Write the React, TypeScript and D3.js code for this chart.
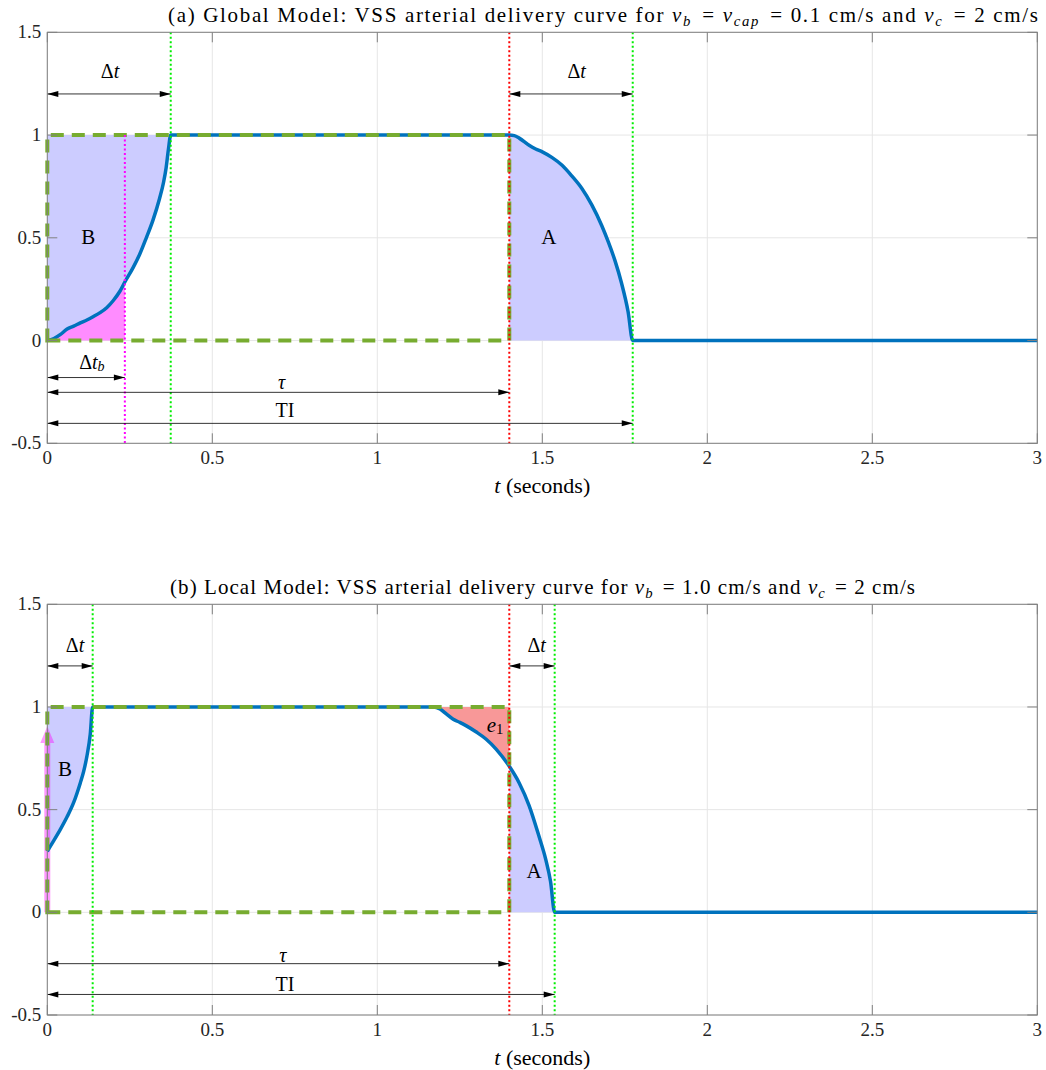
import React from "react";
import * as d3 from "d3";

// tick values / labels shared by both panels
const xTicks = [0, 0.5, 1, 1.5, 2, 2.5, 3];
const xTickLabels = ["0", "0.5", "1", "1.5", "2", "2.5", "3"];
const yTicks = [-0.5, 0, 0.5, 1, 1.5];
const yTickLabels = ["-0.5", "0", "0.5", "1", "1.5"];

// (a) global model
const tauA = 1.4;
const dtA = 0.374;
const dtbA = 0.235;
const tiA = 1.774;
const riseTA = [0, 0.02, 0.04, 0.06, 0.08, 0.1, 0.12, 0.14, 0.16, 0.18, 0.2, 0.22, 0.235, 0.26, 0.28, 0.3, 0.32, 0.34, 0.352, 0.36, 0.367, 0.374];
const riseVA = [0, 0.01, 0.03, 0.056, 0.07, 0.086, 0.1, 0.117, 0.136, 0.16, 0.195, 0.24, 0.285, 0.355, 0.42, 0.5, 0.585, 0.69, 0.768, 0.84, 0.93, 1];
const fallTA = [1.4, 1.415, 1.43, 1.46, 1.48, 1.5, 1.53, 1.56, 1.59, 1.62, 1.65, 1.68, 1.7, 1.72, 1.74, 1.76, 1.774];
const fallVA = [1, 0.997, 0.985, 0.95, 0.932, 0.918, 0.89, 0.853, 0.8, 0.74, 0.66, 0.56, 0.48, 0.39, 0.28, 0.14, 0];

// (b) local model
const tauB = 1.4;
const dtB = 0.1375;
const tiB = 1.5375;
const riseTB = [0, 0.02, 0.04, 0.06, 0.08, 0.1, 0.11, 0.12, 0.13, 0.1375];
const riseVB = [0.297, 0.35, 0.405, 0.465, 0.535, 0.63, 0.685, 0.76, 0.865, 1];
const fallTB = [1.17, 1.19, 1.21, 1.23, 1.25, 1.27, 1.3, 1.33, 1.36, 1.4, 1.43, 1.46, 1.49, 1.51, 1.525, 1.5375];
const fallVB = [1, 0.99, 0.965, 0.94, 0.925, 0.908, 0.878, 0.843, 0.795, 0.711, 0.63, 0.52, 0.37, 0.26, 0.15, 0];

const FONT = "'Liberation Serif', 'Times New Roman', serif";
const BLUE = "#0072bd";
const GREEN = "#77ac30";
const LIME = "#00ee00";
const FILL_BLUE = "#ccccff";

type Pt = [number, number];
const zip = (t: number[], v: number[]): Pt[] => t.map((d, i) => [d, v[i]]);

const x = d3.scaleLinear().domain([0, 3]).range([47.3, 1037.3]);
const yA = d3.scaleLinear().domain([-0.5, 1.5]).range([443.3, 32.3]);
const yB = d3.scaleLinear().domain([-0.5, 1.5]).range([1015, 604.3]);

type Y = d3.ScaleLinear<number, number>;

const Arrow = ({ x1, x2, v, y }: { x1: number; x2: number; v: number; y: Y }) => {
    const a = x(x1), b = x(x2), yy = y(v);
    const L = 11, h = 3;
    return (
        <g>
            <line x1={a} x2={b} y1={yy} y2={yy} stroke="#000" strokeWidth={0.8} />
            <path d={`M${a},${yy}L${a + L},${yy - h}L${a + L},${yy + h}Z`} fill="#000" />
            <path d={`M${b},${yy}L${b - L},${yy - h}L${b - L},${yy + h}Z`} fill="#000" />
        </g>
    );
};

const VDot = ({ t, from, to, color, y }: { t: number; from: number; to: number; color: string; y: Y }) => (
    <line x1={x(t)} x2={x(t)} y1={y(from)} y2={y(to)} stroke={color} strokeWidth={2} strokeDasharray="2 2.5" />
);

const Label = ({ t, v, y, children, size = 20 }: any) => (
    <text x={x(t)} y={y(v)} textAnchor="middle" dominantBaseline="central" fontSize={size} fontFamily={FONT} fill="#000">
        {children}
    </text>
);

const Frame = ({ y, title, titleX, titleW, children }: { y: Y; title: React.ReactNode; titleX: number; titleW: number; children: React.ReactNode }) => {
    const [top, bot] = [y(1.5), y(-0.5)];
    const [l, r] = [x(0), x(3)];
    return (
        <g>
            {xTicks.map(t => (
                <line key={"gx" + t} x1={x(t)} x2={x(t)} y1={top} y2={bot} stroke="#e6e6e6" />
            ))}
            {yTicks.map(t => (
                <line key={"gy" + t} x1={l} x2={r} y1={y(t)} y2={y(t)} stroke="#e6e6e6" />
            ))}
            {children}
            <rect x={l} y={top} width={r - l} height={bot - top} fill="none" stroke="#808080" />
            {xTicks.map(t => (
                <g key={"tx" + t}>
                    <line x1={x(t)} x2={x(t)} y1={bot} y2={bot - 10} stroke="#808080" />
                    <line x1={x(t)} x2={x(t)} y1={top} y2={top + 10} stroke="#808080" />
                </g>
            ))}
            {yTicks.map(t => (
                <g key={"ty" + t}>
                    <line x1={l} x2={l + 10} y1={y(t)} y2={y(t)} stroke="#808080" />
                    <line x1={r} x2={r - 10} y1={y(t)} y2={y(t)} stroke="#808080" />
                </g>
            ))}
            {xTicks.map((t, i) => (
                <text key={"lx" + t} x={x(t)} y={bot + 21} textAnchor="middle" fontSize={19} fontFamily={FONT} fill="#262626">
                    {xTickLabels[i]}
                </text>
            ))}
            {yTicks.map((t, i) => (
                <text key={"ly" + t} x={l - 6} y={y(t) + 6} textAnchor="end" fontSize={19} fontFamily={FONT} fill="#262626">
                    {yTickLabels[i]}
                </text>
            ))}
            <text x={(l + r) / 2} y={bot + 50} textAnchor="middle" fontSize={22} fontFamily={FONT} fill="#000">
                <tspan fontStyle="italic">t</tspan> (seconds)
            </text>
            <text x={titleX} y={top - 10} textAnchor="middle" fontSize={21} fontFamily={FONT} fill="#000" textLength={titleW} lengthAdjust="spacing">
                {title}
            </text>
        </g>
    );
};

const Sub = ({ base, sub }: { base: string; sub: string }) => (
    <>
        <tspan fontStyle="italic">{base}</tspan>
        <tspan fontStyle="italic" fontSize="0.7em" dy={4}>{sub}</tspan>
        <tspan dy={-4}>{"\u200a"}</tspan>
    </>
);

const PanelA = () => {
    const y = yA;
    const rise = zip(riseTA, riseVA);
    const fall = zip(fallTA, fallVA);
    const full: Pt[] = [...rise, ...fall, [3, 0]];
    const ln = d3.line<Pt>().x(d => x(d[0])).y(d => y(d[1])).curve(d3.curveMonotoneX);
    const areaTop = d3.area<Pt>().x(d => x(d[0])).y0(y(1)).y1(d => y(d[1])).curve(d3.curveMonotoneX);
    const areaBot = d3.area<Pt>().x(d => x(d[0])).y0(y(0)).y1(d => y(d[1])).curve(d3.curveMonotoneX);
    const pink = rise.filter(d => d[0] <= dtbA);
    const rect = `M${x(0)},${y(0)}L${x(tauA)},${y(0)}L${x(tauA)},${y(1)}L${x(0)},${y(1)}Z`;
    return (
        <Frame
            y={y}
            titleX={603}
            titleW={870}
            title={
                <>
                    (a) Global Model: VSS arterial delivery curve for <Sub base="v" sub="b" /> = <Sub base="v" sub="cap" /> = 0.1 cm/s and{" "}
                    <Sub base="v" sub="c" /> = 2 cm/s
                </>
            }
        >
            <path d={areaTop(rise)!} fill={FILL_BLUE} />
            <path d={areaBot(pink)!} fill="#ff8cff" />
            <path d={areaBot(fall)!} fill={FILL_BLUE} />
            <path d={ln(full)!} fill="none" stroke={BLUE} strokeWidth={3.5} />
            <path d={rect} fill="none" stroke={GREEN} strokeWidth={4} strokeDasharray="13 8" />
            <VDot t={dtbA} from={1} to={-0.5} color="#ff00ff" y={y} />
            <VDot t={dtA} from={1.5} to={-0.5} color={LIME} y={y} />
            <VDot t={tauA} from={1.5} to={-0.5} color="#ff0000" y={y} />
            <VDot t={tiA} from={1.5} to={-0.5} color={LIME} y={y} />
            <Arrow x1={0} x2={dtA} v={1.2} y={y} />
            <Arrow x1={tauA} x2={tiA} v={1.2} y={y} />
            <Arrow x1={0} x2={dtbA} v={-0.18} y={y} />
            <Arrow x1={0} x2={tauA} v={-0.252} y={y} />
            <Arrow x1={0} x2={tiA} v={-0.403} y={y} />
            <Label t={0.19} v={1.31} y={y}>Δ<tspan fontStyle="italic">t</tspan></Label>
            <Label t={1.604} v={1.31} y={y}>Δ<tspan fontStyle="italic">t</tspan></Label>
            <Label t={0.135} v={-0.105} y={y}>
                Δ<tspan fontStyle="italic">t</tspan>
                <tspan fontStyle="italic" fontSize="0.7em" dy={4}>b</tspan>
            </Label>
            <Label t={0.71} v={-0.2} y={y}><tspan fontStyle="italic">τ</tspan></Label>
            <Label t={0.72} v={-0.34} y={y}>TI</Label>
            <Label t={0.124} v={0.505} y={y} size={21}>B</Label>
            <Label t={1.52} v={0.505} y={y} size={21}>A</Label>
        </Frame>
    );
};

const PanelB = () => {
    const y = yB;
    const rise = zip(riseTB, riseVB);
    const fall = zip(fallTB, fallVB);
    const full: Pt[] = [...rise, ...fall, [3, 0]];
    const ln = d3.line<Pt>().x(d => x(d[0])).y(d => y(d[1])).curve(d3.curveMonotoneX);
    const areaTop = d3.area<Pt>().x(d => x(d[0])).y0(y(1)).y1(d => y(d[1])).curve(d3.curveMonotoneX);
    const areaBot = d3.area<Pt>().x(d => x(d[0])).y0(y(0)).y1(d => y(d[1])).curve(d3.curveMonotoneX);
    const e1 = fall.filter(d => d[0] <= tauB);
    const aPart = fall.filter(d => d[0] >= tauB);
    const rect = `M${x(0)},${y(0)}L${x(tauB)},${y(0)}L${x(tauB)},${y(1)}L${x(0)},${y(1)}Z`;
    const ax = x(0), headTip = y(0.906), headBase = y(0.825);
    return (
        <Frame
            y={y}
            titleX={542.5}
            titleW={745}
            title={
                <>
                    (b) Local Model: VSS arterial delivery curve for <Sub base="v" sub="b" /> = 1.0 cm/s and <Sub base="v" sub="c" /> = 2 cm/s
                </>
            }
        >
            <path d={areaTop(rise)!} fill={FILL_BLUE} />
            <path d={areaTop(e1)!} fill="#f89898" />
            <path d={areaBot(aPart)!} fill={FILL_BLUE} />
            <path
                d={`M${ax - 3},${y(0)}L${ax - 3},${headBase}L${ax - 7},${headBase}L${ax},${headTip}L${ax + 7},${headBase}L${ax + 3},${headBase}L${ax + 3},${y(0)}Z`}
                fill="rgba(255,0,255,0.4)"
            />
            <path d={ln(full)!} fill="none" stroke={BLUE} strokeWidth={3.5} />
            <path d={rect} fill="none" stroke={GREEN} strokeWidth={4} strokeDasharray="13 8" />
            <VDot t={dtB} from={1.5} to={-0.5} color={LIME} y={y} />
            <VDot t={tauB} from={1.5} to={-0.5} color="#ff0000" y={y} />
            <VDot t={tiB} from={1.5} to={-0.5} color={LIME} y={y} />
            <Arrow x1={0} x2={dtB} v={1.2} y={y} />
            <Arrow x1={tauB} x2={tiB} v={1.2} y={y} />
            <Arrow x1={0} x2={tauB} v={-0.25} y={y} />
            <Arrow x1={0} x2={tiB} v={-0.4} y={y} />
            <Label t={0.084} v={1.3} y={y}>Δ<tspan fontStyle="italic">t</tspan></Label>
            <Label t={1.483} v={1.3} y={y}>Δ<tspan fontStyle="italic">t</tspan></Label>
            <Label t={0.714} v={-0.21} y={y}><tspan fontStyle="italic">τ</tspan></Label>
            <Label t={0.72} v={-0.35} y={y}>TI</Label>
            <Label t={0.054} v={0.7} y={y} size={21}>B</Label>
            <Label t={1.357} v={0.914} y={y} size={21}>
                <tspan fontStyle="italic">e</tspan>
                <tspan fontSize="0.7em" dy={4}>1</tspan>
            </Label>
            <Label t={1.475} v={0.2} y={y} size={21}>A</Label>
        </Frame>
    );
};

export default function App() {
    return (
        <svg width={1046} height={1070} style={{ position: "absolute", left: 0, top: 0, background: "#fff" }}>
            <rect width={1046} height={1070} fill="#fff" />
            <PanelA />
            <PanelB />
        </svg>
    );
}
